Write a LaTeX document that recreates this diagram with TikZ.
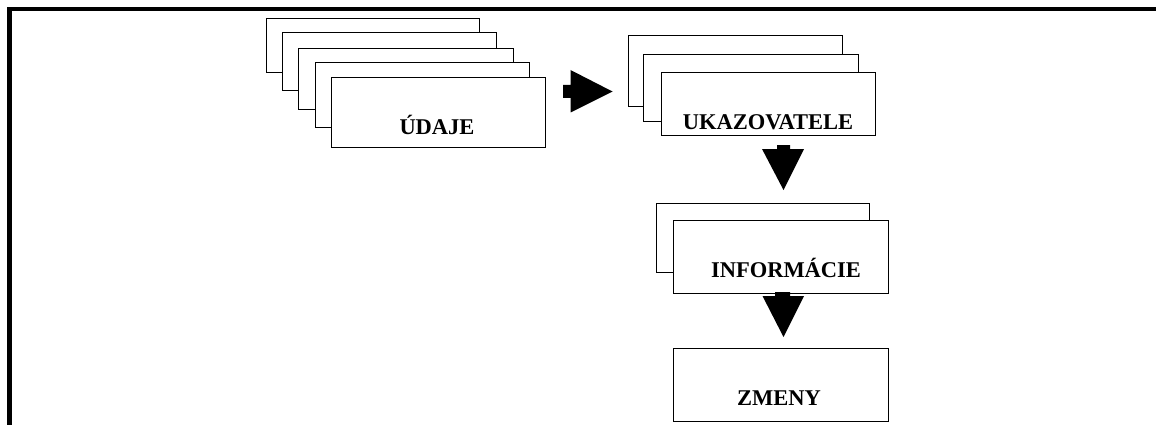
\documentclass[tikz,border=0pt]{standalone}
\usepackage{fontspec}
\setmainfont{Liberation Serif}
\begin{document}
\begin{tikzpicture}[x=1pt,y=-1pt,
  card/.style={draw=black, fill=white, line width=1pt},
  lbl/.style={font=\fontsize{22.5}{26}\selectfont\bfseries, anchor=base, inner sep=0pt, text=black},
  blockarrow/.style={fill=black, draw=none}]
\useasboundingbox (0,0) rectangle (1156,425);
% frame
\draw[line width=4.6pt] (9.5,425) -- (9.5,9.2) -- (1156,9.2);
% UDAJE stack
\draw[card] (266,19) rectangle (479,73);
\draw[card] (282,33) rectangle (496,91);
\draw[card] (298,49) rectangle (513,110);
\draw[card] (315,63) rectangle (529,128);
\draw[card] (331,78) rectangle (545,147);
\node[lbl] (tudaje) at (437,135) {ÚDAJE};
% UKAZOVATELE stack
\draw[card] (628,36) rectangle (842,107);
\draw[card] (643,55) rectangle (858,122);
\draw[card] (661,73) rectangle (875,136);
\node[lbl] (tukaz) at (768,129.5) {UKAZOVATELE};
% INFORMACIE stack
\draw[card] (656,203) rectangle (869,272);
\draw[card] (673,220) rectangle (888,293);
\node[lbl] (tinfo) at (786,277) {INFORMÁCIE};
% ZMENY
\draw[card] (673,348) rectangle (888,421);
\node[lbl] (tzmeny) at (779,405) {ZMENY};
% block arrows
\fill[blockarrow] (563,85) -- (570.5,85) -- (570.5,70) -- (612.5,91.5) -- (570.5,112.5) -- (570.5,98) -- (563,98) -- cycle;
\fill[blockarrow] (777,145) -- (790,145) -- (790,149) -- (804,149) -- (783.5,190) -- (762,149) -- (777,149) -- cycle;
\fill[blockarrow] (775,292) -- (790,292) -- (790,296) -- (804,296) -- (783.5,337) -- (762.5,296) -- (775,296) -- cycle;
\end{tikzpicture}
\end{document}
